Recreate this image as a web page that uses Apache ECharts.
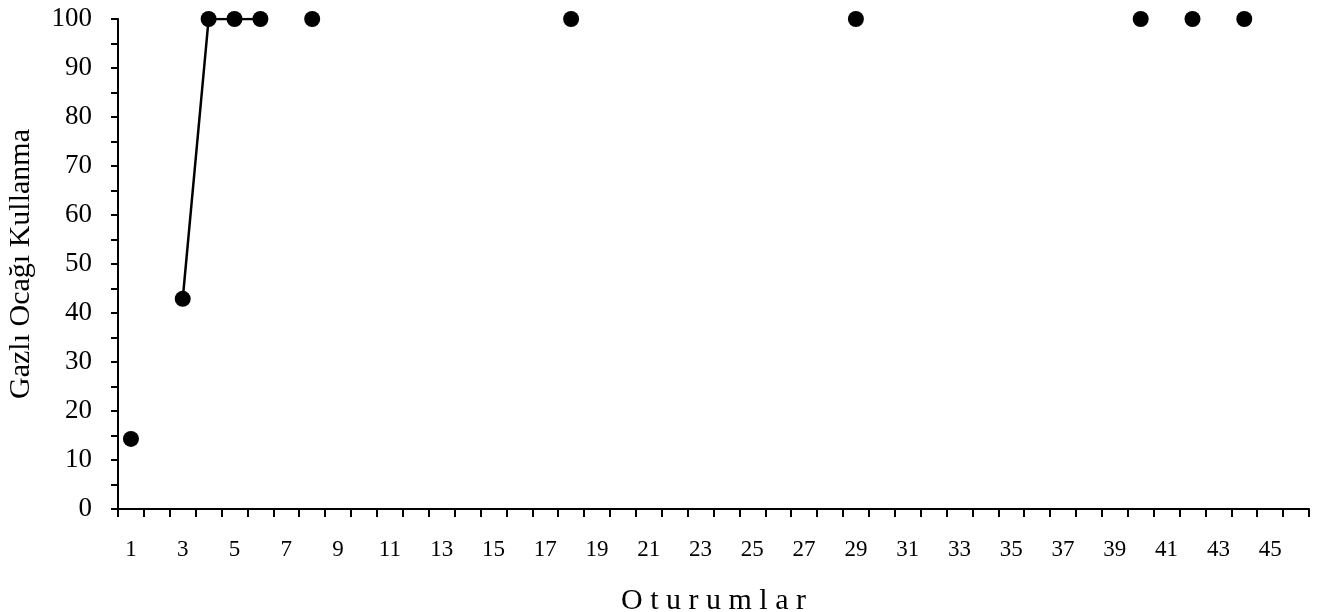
<!DOCTYPE html>
<html>
<head>
<meta charset="utf-8">
<script src="https://cdn.jsdelivr.net/npm/echarts@6/dist/echarts.min.js"></script>
<style>
  html, body { margin: 0; padding: 0; background: #fff; }
  #chart { width: 1334px; height: 612px; }
</style>
</head>
<body>
<div id="chart"></div>
<script>
// Session numbers along the horizontal axis
const sessions = ['1','2','3','4','5','6','7','8','9','10','11','12','13','14','15','16','17','18','19','20',
  '21','22','23','24','25','26','27','28','29','30','31','32','33','34','35','36','37','38','39','40',
  '41','42','43','44','45','46'];

// Sessions in which the behaviour was observed, and the percentage recorded
const observedSessions = ['1', '3', '4', '5', '6', '8', '18', '29', '40', '42', '44'];
const observedValues   = [14.3, 42.9, 100, 100, 100, 100, 100, 100, 100, 100, 100];

// Y axis tick labels
const yTicks = [0, 10, 20, 30, 40, 50, 60, 70, 80, 90, 100];

// One slot per session; unobserved sessions stay empty so the line breaks there
const seriesData = sessions.map(s => {
  const i = observedSessions.indexOf(s);
  return i >= 0 ? observedValues[i] : null;
});

const FONT = '"Liberation Serif", "Times New Roman", serif';

const chart = echarts.init(document.getElementById('chart'), null, { renderer: 'canvas' });
chart.setOption({
  backgroundColor: '#ffffff',
  animation: false,
  grid: {
    left: 118, right: 25, top: 19, bottom: 103,
    containLabel: false,
    outerBoundsMode: 'none'
  },
  xAxis: {
    type: 'category',
    data: sessions,
    boundaryGap: true,
    name: 'O t u r u m l a r',
    nameLocation: 'middle',
    nameGap: 77,
    nameTextStyle: { fontFamily: FONT, fontSize: 30, color: '#000' },
    axisLine: { lineStyle: { color: '#000', width: 2 } },
    axisTick: { show: true, interval: 0, length: 8, lineStyle: { color: '#000', width: 2 } },
    axisLabel: { interval: 1, margin: 29, fontFamily: FONT, fontSize: 23, color: '#000' },
    splitLine: { show: false }
  },
  yAxis: {
    type: 'value',
    min: yTicks[0],
    max: yTicks[yTicks.length - 1],
    interval: 10,
    name: 'Gazlı Ocağı Kullanma',
    nameLocation: 'middle',
    nameGap: 82,
    nameRotate: 90,
    nameTextStyle: { fontFamily: FONT, fontSize: 30, color: '#000' },
    axisLine: { show: true, lineStyle: { color: '#000', width: 2 } },
    axisTick: { show: true, length: 7, lineStyle: { color: '#000', width: 2 } },
    minorTick: { show: true, splitNumber: 2, length: 7, lineStyle: { color: '#000', width: 2 } },
    axisLabel: { margin: 26, fontFamily: FONT, fontSize: 27, color: '#000' },
    splitLine: { show: false }
  },
  series: [{
    type: 'line',
    data: seriesData,
    connectNulls: false,
    symbol: 'circle',
    symbolSize: 16,
    showAllSymbol: true,
    itemStyle: { color: '#000' },
    lineStyle: { color: '#000', width: 2.5 }
  }]
});
</script>
</body>
</html>
